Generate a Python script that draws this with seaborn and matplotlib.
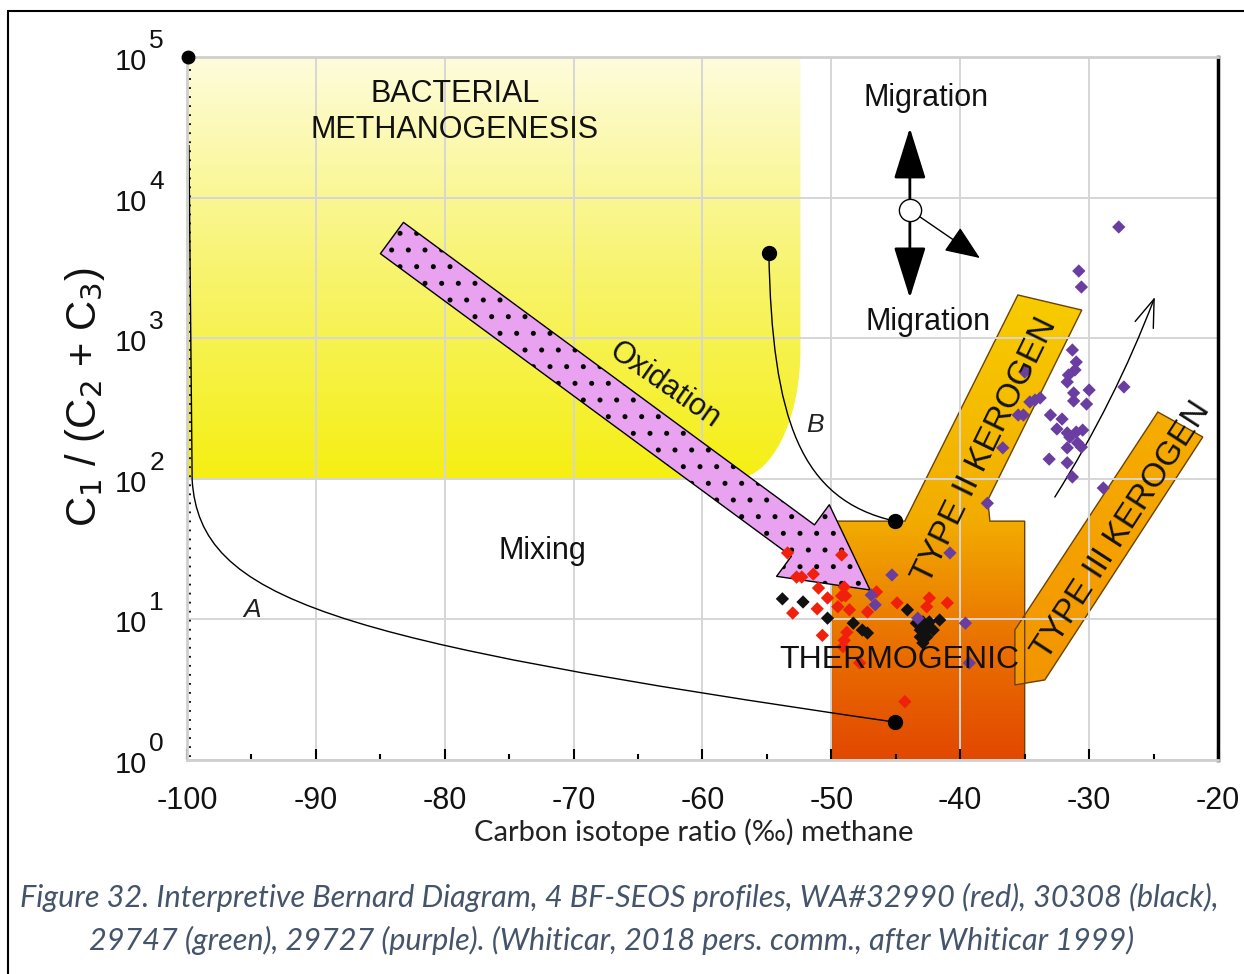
import numpy as np
import pandas as pd
import seaborn as sns
import matplotlib
matplotlib.use("Agg")
import matplotlib.pyplot as plt
from matplotlib.patches import Polygon, PathPatch
from matplotlib.path import Path
from matplotlib.colors import to_rgb
from matplotlib.lines import Line2D
import matplotlib.transforms as mtransforms
from matplotlib.ticker import MultipleLocator, NullLocator

# ---------------- data ----------------
RED_X = [-53.4, -52.7, -52.3, -51.4, -51.0, -50.3, -51.1, -53.0, -49.2, -49.0, -49.2, -48.9, -49.5,
         -48.6, -47.2, -46.5, -44.9, -42.4, -42.6, -41.0, -50.7, -48.8, -49.0, -49.1, -47.8, -44.3]
RED_Y = [29.7, 20.0, 20.0, 21.0, 16.7, 14.2, 11.9, 11.1, 28.7, 17.0, 14.7, 14.7, 12.3,
         11.7, 11.3, 15.7, 13.1, 14.2, 12.3, 13.1, 7.7, 8.1, 7.1, 6.4, 4.9, 2.6]
BLACK_X = [-53.8, -52.2, -50.3, -48.3, -47.6, -47.2, -44.1, -43.4, -42.9, -42.4, -41.6, -43.1,
           -42.6, -42.1, -43.1, -42.6, -42.9]
BLACK_Y = [14.0, 13.3, 10.2, 9.4, 8.4, 8.0, 11.7, 9.4, 9.6, 9.6, 9.9, 8.4, 8.4, 8.4, 7.5, 7.5, 6.8]
PURPLE_X = [-40.8, -45.3, -46.9, -46.6, -43.3, -39.6, -39.3, -37.9, -36.7, -35.5, -35.1, -34.6,
            -34.2, -33.8, -35.0, -31.3, -31.0, -31.1, -31.6, -31.7, -30.0, -27.3, -31.2, -31.2,
            -30.2, -33.0, -32.1, -32.5, -31.7, -31.5, -31.0, -30.5, -30.9, -30.6, -31.7, -33.1,
            -31.7, -31.3, -28.9, -27.7, -30.8, -30.6]
PURPLE_Y = [29.7, 20.7, 14.9, 12.7, 10.2, 9.4, 4.9, 67, 166, 284, 284, 352, 363, 376, 575, 824,
            677, 594, 547, 488, 428, 450, 408, 358, 340, 284, 266, 226, 212, 198, 215, 222, 180,
            168, 166, 138, 130, 103, 86, 6180, 3006, 2312]

XTICKS = [-100, -90, -80, -70, -60, -50, -40, -30, -20]
XTICK_LABELS = ["-100", "-90", "-80", "-70", "-60", "-50", "-40", "-30", "-20"]
YDECADES = [1, 10, 100, 1000, 10000, 100000]
YEXPONENTS = ["0", "1", "2", "3", "4", "5"]

# diagram fields (x in permil, y in C1/(C2+C3))
BACT_X = (-100.0, -52.4)
BACT_Y = (100.0, 100000.0)
BACT_CORNER = (-57.5, 10 ** 2.92)        # centre of the rounded corner
THERMO_X = [-50.0, -50.0, -44.3, -35.53, -30.57, -37.86, -37.7, -35.0, -35.0]
THERMO_Y = [1.0, 50.0, 50.0, 2030, 1585, 70.7, 50.0, 50.0, 1.0]
TYPE3_X = [-35.76, -24.67, -21.18, -33.44, -35.76]
TYPE3_Y = [8.41, 298.6, 198.3, 3.71, 3.42]
OXID_TAIL = (-84.1, 5160)
OXID_TIP = (-47.0, 16.2)
MIG_ORIGIN = (-43.91, 8170)
MIG_UP = (-43.91, 31300)
MIG_DOWN = (-43.91, 1932)
MIG_DIAG = (-38.48, 3718)
CURVE_A_X = [-99.85, -99.6, -99.0, -88.9, -45.07]
CURVE_A_Y = [23660, 98, 13.7, 7.14, 1.86]
CURVE_B_X = [-54.85, -54.6, -52.4, -45.07]
CURVE_B_Y = [4035, 262, 70.7, 50]
TREND_START = (-32.66, 74.2)
TREND_END = (-24.9, 1963)

CAPTION_1 = "Figure 32. Interpretive Bernard Diagram, 4 BF-SEOS profiles, WA#32990 (red), 30308 (black),"
CAPTION_2 = "29747 (green), 29727 (purple). (Whiticar, 2018 pers. comm., after Whiticar 1999)"

# ---------------- style ----------------
sns.set_theme(style="white")
plt.rcParams["font.family"] = ["Liberation Sans", "DejaVu Sans"]
plt.rcParams["axes.unicode_minus"] = False
plt.rcParams["hatch.linewidth"] = 1.2

W, H = 1244, 974
fig = plt.figure(figsize=(W / 100, H / 100), dpi=100)
ax = fig.add_axes([187 / W, 1 - 760 / H, (1218 - 187) / W, (760 - 57) / H])
ax.set_yscale("log")
ax.set_xlim(-100, -20)
ax.set_ylim(1, 1e5)
ax.set_facecolor("white")


def gradient_fill(patch, stops, z):
    """vertical gradient (stops in axes-fraction y) clipped to patch"""
    ys = np.linspace(0, 1, 400)
    pos = [s[0] for s in stops]
    cols = np.array([to_rgb(s[1]) for s in stops])
    img = np.stack([np.interp(ys, pos, cols[:, i]) for i in range(3)], axis=-1)[:, None, :]
    im = ax.imshow(img, extent=[0, 1, 0, 1], transform=ax.transAxes, origin="lower",
                   aspect="auto", interpolation="bilinear", zorder=z)
    im.set_clip_path(patch)
    return im


# bacterial methanogenesis field with rounded lower-right corner
cx, cyl = BACT_CORNER[0], np.log10(BACT_CORNER[1])
rx = BACT_X[1] - cx
ry = cyl - np.log10(BACT_Y[0])
th = np.linspace(0, -np.pi / 2, 40)
arc_x = cx + rx * np.cos(th)
arc_y = 10 ** (cyl + ry * np.sin(th))
bx = np.concatenate([[BACT_X[0], BACT_X[1]], arc_x, [BACT_X[0]]])
by = np.concatenate([[BACT_Y[1], BACT_Y[1]], arc_y, [BACT_Y[0]]])
bact = Polygon(np.column_stack([bx, by]), closed=True, facecolor="none", edgecolor="none", zorder=1)
ax.add_patch(bact)
gradient_fill(bact, [(0.0, "#f4ee10"), (0.40, "#f5ef12"), (0.7, "#f8f470"), (1.0, "#fefcdc")], 0.9)

# thermogenic box + type II kerogen band
thermo = Polygon(np.column_stack([THERMO_X, THERMO_Y]), closed=True, facecolor="none",
                 edgecolor="#6b4200", lw=1.0, zorder=1.1)
ax.add_patch(thermo)
gradient_fill(thermo, [(0.0, "#e24800"), (0.17, "#ea7200"), (0.34, "#f2ac00"), (0.66, "#f8cc00"),
                       (1.0, "#f8cc00")], 0.9)

# type III kerogen band
t3 = Polygon(np.column_stack([TYPE3_X, TYPE3_Y]), closed=True, facecolor="none",
             edgecolor="#6b4200", lw=1.0, zorder=1.1)
ax.add_patch(t3)
gradient_fill(t3, [(0.0, "#f39000"), (0.1, "#f39400"), (0.5, "#f6ae00"), (1.0, "#f6b000")], 0.9)

# grid
ax.set_axisbelow("line")
ax.set_xticks(XTICKS)
ax.set_xticklabels(XTICK_LABELS)
ax.xaxis.set_minor_locator(MultipleLocator(5))
ax.set_yticks(YDECADES)
ax.set_yticklabels([])
ax.yaxis.set_minor_locator(NullLocator())
ax.grid(True, which="major", color="#d6d6d6", lw=1.4)
ax.tick_params(axis="x", which="major", direction="in", length=8, width=1.5, color="black",
               labelsize=22, pad=19, labelcolor="#111111", bottom=True)
ax.tick_params(axis="x", which="minor", direction="in", length=4, width=1.5, color="black",
               bottom=True)
ax.tick_params(axis="y", which="both", length=0)
for s in ["left", "bottom", "top"]:
    ax.spines[s].set_color("#cfcfcf")
    ax.spines[s].set_linewidth(2)
ax.spines["right"].set_color("black")
ax.spines["right"].set_linewidth(2.5)

# y decade labels: 10 with a near-full-size exponent
tr_base = mtransforms.blended_transform_factory(ax.transAxes, ax.transData)
for yv, ex in zip(YDECADES, YEXPONENTS):
    ax.text(-0.0385, yv, "10", transform=tr_base + mtransforms.ScaledTranslation(0, -5 / 100, fig.dpi_scale_trans),
            ha="right", va="center", fontsize=21, color="#111111", clip_on=False)
    ax.text(-0.0365, yv, ex, transform=tr_base + mtransforms.ScaledTranslation(0, 16 / 100, fig.dpi_scale_trans),
            ha="left", va="center", fontsize=19, color="#111111", clip_on=False)

# dotted left line
ax.plot([-99.8, -99.8], [1.05, 1e5], ls=(0, (1, 4)), color="black", lw=1.3, zorder=2, clip_on=False)

# curves A and B (bezier)
pa = Path(np.column_stack([CURVE_A_X, CURVE_A_Y]),
          [Path.MOVETO, Path.LINETO, Path.CURVE4, Path.CURVE4, Path.CURVE4])
ax.add_patch(PathPatch(pa, facecolor="none", edgecolor="black", lw=1.0, zorder=2.2))
pb = Path(np.column_stack([CURVE_B_X, CURVE_B_Y]),
          [Path.MOVETO, Path.CURVE4, Path.CURVE4, Path.CURVE4])
ax.add_patch(PathPatch(pb, facecolor="none", edgecolor="black", lw=1.0, zorder=2.2))
ax.plot([CURVE_A_X[-1], CURVE_B_X[0], CURVE_B_X[-1]], [CURVE_A_Y[-1], CURVE_B_Y[0], CURVE_B_Y[-1]],
        "o", color="black", ms=10, zorder=6)
ax.plot([-99.9], [1e5], "o", color="black", ms=9, zorder=6, clip_on=False)

# oxidation arrow
ax.annotate("", xy=OXID_TIP, xytext=OXID_TAIL,
            arrowprops=dict(arrowstyle="simple,head_length=6.0,head_width=6.4,tail_width=2.8",
                            mutation_scale=10, facecolor="#e8a2f0", edgecolor="black", lw=1.0,
                            hatch=".", shrinkA=0, shrinkB=0), zorder=3)

# migration arrows
for tip, lw, hl, hw in [(MIG_UP, 2.0, 1.6, 0.5), (MIG_DOWN, 2.0, 1.6, 0.5), (MIG_DIAG, 1.0, 1.1, 0.45)]:
    ax.annotate("", xy=tip, xytext=MIG_ORIGIN,
                arrowprops=dict(arrowstyle=f"-|>,head_length={hl},head_width={hw}", mutation_scale=20,
                                color="black", lw=lw, shrinkA=8, shrinkB=0), zorder=4)
ax.plot([MIG_ORIGIN[0]], [MIG_ORIGIN[1]], "o", mfc="white", mec="black", ms=16, mew=1.0, zorder=5)

# trend arrow
ax.annotate("", xy=TREND_END, xytext=TREND_START,
            arrowprops=dict(arrowstyle="->,head_length=1.0,head_width=0.35", mutation_scale=20,
                            color="black", lw=1.0, connectionstyle="arc3,rad=0.05",
                            shrinkA=0, shrinkB=0), zorder=4)

# scatter points
df = pd.DataFrame({
    "d13C": RED_X + BLACK_X + PURPLE_X,
    "ratio": RED_Y + BLACK_Y + PURPLE_Y,
    "profile": ["32990"] * len(RED_X) + ["30308"] * len(BLACK_X) + ["29727"] * len(PURPLE_X),
})
sns.scatterplot(data=df, x="d13C", y="ratio", hue="profile",
                palette={"32990": "#f0200c", "30308": "#111111", "29727": "#6a3ea0"},
                marker="D", s=46, edgecolor="none", legend=False, ax=ax, zorder=5)

# texts
tk = dict(color="#111111", fontsize=22, zorder=7)
ax.text(-79.2, 40600, "BACTERIAL\nMETHANOGENESIS", ha="center", va="center", linespacing=1.25, **tk)
ax.text(-42.67, 51100, "Migration", ha="center", va="center", **tk)
ax.text(-42.51, 1303, "Migration", ha="center", va="center", **tk)
ax.text(-62.9, 465, "Oxidation", ha="center", va="center", rotation=-35, rotation_mode="anchor", **tk)
ax.text(-72.4, 30.7, "Mixing", ha="center", va="center", **tk)
ax.text(-44.7, 5.15, "THERMOGENIC", ha="center", va="center", fontsize=23, color="#111111", zorder=7)
ax.text(-38.1, 160, "TYPE II KEROGEN", ha="center", va="center", rotation=64,
        rotation_mode="anchor", fontsize=24, color="#111111", zorder=7)
ax.text(-27.46, 43.2, "TYPE III KEROGEN", ha="center", va="center", rotation=57,
        rotation_mode="anchor", fontsize=24, color="#111111", zorder=7)
ax.text(-94.96, 11.7, "A", ha="center", va="center", style="italic", fontsize=19, color="#222222")
ax.text(-51.3, 241, "B", ha="center", va="center", style="italic", fontsize=19, color="#222222")

ax.set_xlabel("")
ax.set_ylabel("")
ax.text(-0.099, 0.516, r"C$_1$ / (C$_2$ + C$_3$)", transform=ax.transAxes, rotation=90,
        ha="center", va="center", fontsize=30, color="#111111")

xl = fig.text(694 / W, 1 - 832 / H, "Carbon isotope ratio (\u2030) methane", ha="center", va="center",
              fontsize=18, color="#222222", family=["Lato", "DejaVu Sans"])
c1 = fig.text(619 / W, 1 - 897 / H, CAPTION_1, ha="center", va="center", fontsize=20,
              color="#44546a", style="italic", family=["Lato", "DejaVu Sans"])
c2 = fig.text(612 / W, 1 - 940 / H, CAPTION_2, ha="center", va="center", fontsize=20,
              color="#44546a", style="italic", family=["Lato", "DejaVu Sans"])

# fit widths
fig.canvas.draw()
r = fig.canvas.get_renderer()
w = xl.get_window_extent(r).width
xl.set_fontsize(18 * 438 / w)
w1 = c1.get_window_extent(r).width
fs = 20 * 1198 / w1
c1.set_fontsize(fs)
c2.set_fontsize(fs)

# page frame
fig.add_artist(Line2D([8 / W, 1.0], [1 - 11 / H, 1 - 11 / H], transform=fig.transFigure, color="black", lw=1.5))
fig.add_artist(Line2D([8 / W, 8 / W], [1 - 11 / H, 0.0], transform=fig.transFigure, color="black", lw=1.5))

fig.savefig("out.png", dpi=100, facecolor="white")
